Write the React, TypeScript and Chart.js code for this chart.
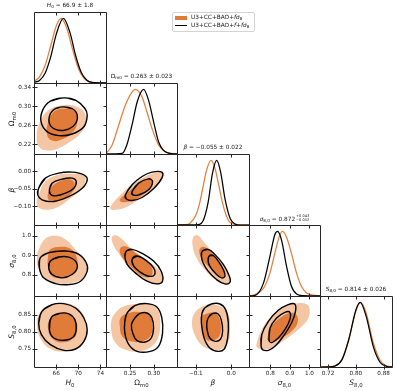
import React, { useEffect, useRef } from 'react';
import { Chart, registerables } from 'chart.js';

Chart.register(...registerables);

type Pt = [number, number];

// ---------------- axis limits ----------------
const H0_LIMITS = [62, 75];
const OM_LIMITS = [0.199, 0.349];
const BETA_LIMITS = [-0.153, 0.05];
const SIG8_LIMITS = [0.691, 1.054];
const S8_LIMITS = [0.697, 0.904];
const PDF_LIMITS = [0, 1.1];

// ---------------- ticks ----------------
const H0_X_TICKS = [66, 70, 74];
const H0_X_LABELS = ['66', '70', '74'];
const OM_X_TICKS = [0.25, 0.3];
const OM_X_LABELS = ['0.25', '0.30'];
const OM_Y_TICKS = [0.22, 0.26, 0.3, 0.34];
const OM_Y_LABELS = ['0.22', '0.26', '0.30', '0.34'];
const BETA_X_TICKS = [-0.1, 0];
const BETA_X_LABELS = ['\u22120.1', '0.0'];
const BETA_Y_TICKS = [-0.1, -0.05, 0];
const BETA_Y_LABELS = ['\u22120.10', '\u22120.05', '0.00'];
const SIG8_X_TICKS = [0.8, 0.9, 1.0];
const SIG8_X_LABELS = ['0.8', '0.9', '1.0'];
const SIG8_Y_TICKS = [0.8, 0.9, 1.0];
const SIG8_Y_LABELS = ['0.8', '0.9', '1.0'];
const S8_X_TICKS = [0.72, 0.8, 0.88];
const S8_X_LABELS = ['0.72', '0.80', '0.88'];
const S8_Y_TICKS = [0.75, 0.8, 0.85];
const S8_Y_LABELS = ['0.75', '0.80', '0.85'];

// ---------------- title statistics ----------------
const TITLE_MEANS = ['66.9', '0.263', '\u22120.055', '0.872', '0.814'];
const TITLE_ERRORS = ['1.8', '0.023', '0.022', '+0.043/\u22120.052', '0.026'];

// ---------------- 1D marginals (A = U3+CC+BAO+fσ8, B = U3+CC+BAO+f+fσ8) ----------------
const H0_PDF_A_X = [62, 63, 64, 65, 66, 66.9, 68, 69, 70, 71, 72, 73, 75];
const H0_PDF_A_Y = [0.025, 0.095, 0.27, 0.57, 0.88, 1.0, 0.83, 0.51, 0.23, 0.075, 0.018, 0.003, 0];
const H0_PDF_B_X = [62, 63, 64, 65, 66, 67.3, 68.5, 69.5, 70.5, 71.5, 72.5, 75];
const H0_PDF_B_Y = [0.008, 0.04, 0.15, 0.4, 0.75, 1.0, 0.78, 0.43, 0.17, 0.047, 0.009, 0];

const OM_PDF_A_X = [0.199, 0.212, 0.226, 0.24, 0.254, 0.261, 0.275, 0.2855, 0.296, 0.31, 0.324, 0.338, 0.349];
const OM_PDF_A_Y = [0.005, 0.14, 0.45, 0.76, 0.96, 1.0, 0.885, 0.65, 0.4, 0.14, 0.04, 0.01, 0.003];
const OM_PDF_B_X = [0.199, 0.233, 0.243, 0.254, 0.265, 0.2785, 0.289, 0.2995, 0.31, 0.32, 0.331, 0.349];
const OM_PDF_B_Y = [0, 0.01, 0.14, 0.45, 0.81, 1.0, 0.83, 0.5, 0.19, 0.06, 0.015, 0];

const BETA_PDF_A_X = [-0.153, -0.13, -0.117, -0.1, -0.09, -0.08, -0.07, -0.057, -0.045, -0.035, -0.025, -0.015, -0.005, 0.01, 0.05];
const BETA_PDF_A_Y = [0, 0.004, 0.024, 0.15, 0.32, 0.58, 0.84, 1.0, 0.86, 0.61, 0.35, 0.16, 0.05, 0.01, 0];
const BETA_PDF_B_X = [-0.153, -0.094, -0.079, -0.065, -0.053, -0.041, -0.03, -0.0175, -0.003, 0.011, 0.025, 0.05];
const BETA_PDF_B_Y = [0, 0.005, 0.07, 0.36, 0.8, 1.0, 0.82, 0.4, 0.1, 0.015, 0, 0];

const SIG8_PDF_A_X = [0.691, 0.714, 0.765, 0.798, 0.823, 0.846, 0.862, 0.883, 0.908, 0.934, 0.959, 0.984, 1.018, 1.054];
const SIG8_PDF_A_Y = [0.003, 0.015, 0.12, 0.355, 0.66, 0.92, 1.0, 0.91, 0.66, 0.355, 0.15, 0.05, 0.015, 0.003];
const SIG8_PDF_B_X = [0.691, 0.722, 0.765, 0.798, 0.823, 0.837, 0.857, 0.883, 0.908, 0.934, 0.967, 1.054];
const SIG8_PDF_B_Y = [0, 0.01, 0.2, 0.615, 0.95, 1.0, 0.87, 0.46, 0.15, 0.03, 0.005, 0];

const S8_PDF_A_X = [0.697, 0.72, 0.74, 0.76, 0.78, 0.8, 0.814, 0.83, 0.85, 0.87, 0.89, 0.904];
const S8_PDF_A_Y = [0, 0.0015, 0.017, 0.115, 0.43, 0.865, 1.0, 0.83, 0.38, 0.1, 0.014, 0.0025];
const S8_PDF_B_X = [0.697, 0.72, 0.74, 0.76, 0.78, 0.8, 0.8125, 0.83, 0.85, 0.87, 0.89, 0.904];
const S8_PDF_B_Y = [0, 0.001, 0.015, 0.11, 0.43, 0.88, 1.0, 0.78, 0.32, 0.07, 0.008, 0.001];

// ---------------- 2D contours (A95/A68 filled, B95/B68 lines) ----------------
const H0_OM_A95: Pt[] = [[67.38, 0.3022], [69.8, 0.2986], [71.19, 0.2847], [71.31, 0.2637], [70.41, 0.2427], [68.59, 0.2252], [66.48, 0.2113], [64.36, 0.2064], [62.85, 0.2147], [62.48, 0.2357], [62.97, 0.2637], [64.66, 0.2917]];
const H0_OM_A68: Pt[] = [[67.68, 0.2951], [69.2, 0.2917], [69.8, 0.2776], [69.62, 0.2567], [68.59, 0.2406], [66.78, 0.2287], [65.26, 0.2273], [64.36, 0.2392], [64.48, 0.2637], [65.26, 0.2847], [66.35, 0.2931]];
const H0_OM_B95: Pt[] = [[67.38, 0.3175], [69.5, 0.3126], [71.19, 0.2951], [71.61, 0.2812], [71.01, 0.2567], [68.89, 0.2413], [66.48, 0.2378], [64.36, 0.2462], [63.27, 0.2672], [63.57, 0.2917], [64.96, 0.3106]];
const H0_OM_B68: Pt[] = [[67.2, 0.2986], [68.89, 0.2951], [69.8, 0.2812], [69.38, 0.2616], [67.68, 0.2497], [65.87, 0.2511], [64.78, 0.2637], [64.96, 0.2847], [65.87, 0.2951]];

const H0_BETA_A95: Pt[] = [[62.85, -0.0667], [64.06, -0.0286], [66.48, -0.0095], [68.89, -0.0067], [70.71, -0.0095], [71.31, -0.0191], [70.71, -0.0477], [68.59, -0.0763], [66.48, -0.1], [64.36, -0.1096], [62.85, -0.103], [62.48, -0.0858]];
const H0_BETA_A68: Pt[] = [[65.57, -0.0381], [67.38, -0.0239], [68.77, -0.0239], [69.38, -0.0381], [68.77, -0.062], [67.08, -0.0781], [65.57, -0.0876], [64.54, -0.0781], [64.66, -0.0572]];
const H0_BETA_B95: Pt[] = [[62.85, -0.0477], [64.06, -0.0191], [66.48, -0.0048], [68.89, -0.0019], [71.01, -0.0095], [71.61, -0.0239], [70.71, -0.0477], [68.29, -0.0716], [65.57, -0.0858], [63.45, -0.0811], [62.67, -0.0667]];
const H0_BETA_B68: Pt[] = [[64.78, -0.0525], [65.26, -0.0334], [67.08, -0.0219], [68.89, -0.0191], [69.62, -0.0286], [69.2, -0.0477], [67.68, -0.062], [65.87, -0.0696], [64.96, -0.0649]];

const OM_BETA_A95: Pt[] = [[0.2088, -0.1], [0.2262, -0.0716], [0.2541, -0.0381], [0.282, -0.0143], [0.3064, -0.0019], [0.3204, -0.0048], [0.3169, -0.0239], [0.296, -0.0525], [0.268, -0.0811], [0.2401, -0.103], [0.2193, -0.1096], [0.2088, -0.1077]];
const OM_BETA_A68: Pt[] = [[0.2277, -0.0811], [0.2472, -0.0572], [0.268, -0.0334], [0.289, -0.0191], [0.2974, -0.0257], [0.2925, -0.0477], [0.2751, -0.0687], [0.2541, -0.084], [0.2332, -0.0876]];
const OM_BETA_B95: Pt[] = [[0.2401, -0.0667], [0.2541, -0.0381], [0.2751, -0.0143], [0.296, -0.0019], [0.3169, -0.0019], [0.3169, -0.0191], [0.3005, -0.0477], [0.2751, -0.0744], [0.2541, -0.083], [0.2416, -0.0781]];
const OM_BETA_B68: Pt[] = [[0.2541, -0.0572], [0.268, -0.0334], [0.289, -0.021], [0.2974, -0.0286], [0.289, -0.0525], [0.268, -0.0667], [0.2556, -0.0667]];

const H0_SIG8_A95: Pt[] = [[64.36, 0.9896], [66.17, 0.998], [67.68, 0.981], [69.2, 0.938], [70.71, 0.8866], [71.61, 0.8351], [71.01, 0.7837], [68.89, 0.7579], [66.47, 0.7545], [64.36, 0.7751], [62.85, 0.8266], [62.54, 0.8866], [63.15, 0.9467]];
const H0_SIG8_A68: Pt[] = [[64.96, 0.9295], [66.78, 0.9432], [68.59, 0.933], [69.62, 0.8952], [69.8, 0.8437], [68.89, 0.8008], [67.08, 0.7837], [65.27, 0.7922], [64.54, 0.8351], [64.54, 0.8952]];
const H0_SIG8_B95: Pt[] = [[63.15, 0.8866], [64.66, 0.9124], [67.68, 0.921], [70.1, 0.9038], [71.43, 0.8609], [71.61, 0.818], [70.4, 0.7665], [68.29, 0.7493], [65.87, 0.7545], [63.75, 0.7837], [62.97, 0.8351]];
const H0_SIG8_B68: Pt[] = [[64.96, 0.8695], [66.47, 0.8901], [68.29, 0.8901], [69.5, 0.8695], [69.8, 0.8351], [68.89, 0.8008], [67.08, 0.7837], [65.27, 0.8008], [64.66, 0.8351]];

const OM_SIG8_A95: Pt[] = [[0.2109, 0.9896], [0.2192, 1.0016], [0.2332, 0.981], [0.2541, 0.9295], [0.2821, 0.878], [0.31, 0.8266], [0.3205, 0.7837], [0.3135, 0.7545], [0.296, 0.7579], [0.2681, 0.7922], [0.2472, 0.8351], [0.2297, 0.8952], [0.2158, 0.9467]];
const OM_SIG8_A68: Pt[] = [[0.2297, 0.938], [0.2437, 0.9432], [0.2611, 0.9124], [0.2821, 0.878], [0.296, 0.8351], [0.2946, 0.7922], [0.2786, 0.7888], [0.2576, 0.8266], [0.2402, 0.8695], [0.2297, 0.9038]];
const OM_SIG8_B95: Pt[] = [[0.2423, 0.921], [0.2541, 0.9295], [0.2751, 0.909], [0.2995, 0.8695], [0.3156, 0.818], [0.3184, 0.7665], [0.3065, 0.7528], [0.2855, 0.7665], [0.2611, 0.8094], [0.2437, 0.8523], [0.2388, 0.8952]];
const OM_SIG8_B68: Pt[] = [[0.2541, 0.878], [0.2646, 0.8952], [0.2855, 0.8695], [0.2995, 0.8351], [0.3016, 0.8008], [0.289, 0.7922], [0.2716, 0.8128], [0.2576, 0.8437]];

const BETA_SIG8_A95: Pt[] = [[-0.1079, 0.9896], [-0.0956, 1.0016], [-0.0795, 0.9724], [-0.0557, 0.921], [-0.0273, 0.8609], [-0.0064, 0.7922], [-0.0035, 0.7579], [-0.0178, 0.7493], [-0.0462, 0.7751], [-0.0747, 0.8266], [-0.0956, 0.878], [-0.1079, 0.938]];
const BETA_SIG8_A68: Pt[] = [[-0.0889, 0.933], [-0.0747, 0.9415], [-0.0557, 0.9124], [-0.032, 0.8609], [-0.0178, 0.8094], [-0.0225, 0.7888], [-0.0415, 0.8008], [-0.0652, 0.8437], [-0.0823, 0.878], [-0.0889, 0.9038]];
const BETA_SIG8_B95: Pt[] = [[-0.0814, 0.921], [-0.0652, 0.9295], [-0.0462, 0.9038], [-0.0225, 0.8523], [-0.0054, 0.7922], [-0.0035, 0.7614], [-0.0178, 0.7528], [-0.0415, 0.7751], [-0.0652, 0.818], [-0.0795, 0.8609], [-0.0842, 0.8952]];
const BETA_SIG8_B68: Pt[] = [[-0.0624, 0.8952], [-0.051, 0.8986], [-0.0368, 0.8695], [-0.0225, 0.8266], [-0.0178, 0.7922], [-0.0273, 0.7837], [-0.0462, 0.8094], [-0.0605, 0.8437], [-0.0652, 0.8695]];

const H0_S8_A95: Pt[] = [[64.06, 0.872], [66.47, 0.8836], [68.89, 0.8788], [70.71, 0.8545], [71.49, 0.8156], [71.31, 0.7816], [70.1, 0.7524], [67.68, 0.7427], [65.27, 0.7475], [63.45, 0.7718], [62.54, 0.8156], [62.85, 0.8496]];
const H0_S8_A68: Pt[] = [[64.96, 0.8399], [66.47, 0.8545], [68.29, 0.8525], [69.5, 0.835], [69.8, 0.8059], [69.2, 0.7816], [67.38, 0.7689], [65.57, 0.7767], [64.54, 0.8059]];
const H0_S8_B95: Pt[] = [[63.45, 0.8593], [65.27, 0.8788], [67.38, 0.8817], [69.5, 0.869], [71.01, 0.8399], [71.61, 0.8059], [71.01, 0.7718], [69.5, 0.7495], [67.38, 0.7456], [64.96, 0.7621], [63.33, 0.7913], [62.85, 0.8253]];
const H0_S8_B68: Pt[] = [[65.14, 0.8418], [66.6, 0.8535], [68.29, 0.852], [69.38, 0.835], [69.62, 0.8059], [69.02, 0.7835], [67.38, 0.7748], [65.57, 0.7816], [64.78, 0.8059]];

const OM_S8_A95: Pt[] = [[0.2158, 0.8496], [0.2367, 0.8739], [0.2681, 0.8807], [0.296, 0.8788], [0.31, 0.8593], [0.3135, 0.8253], [0.31, 0.7864], [0.296, 0.7573], [0.2681, 0.7427], [0.2402, 0.7475], [0.2192, 0.767], [0.2102, 0.801], [0.2102, 0.8302]];
const OM_S8_A68: Pt[] = [[0.2297, 0.8399], [0.2472, 0.8545], [0.2751, 0.8564], [0.2925, 0.8447], [0.2974, 0.8156], [0.2925, 0.7864], [0.2751, 0.7718], [0.2507, 0.7718], [0.2332, 0.7864], [0.2283, 0.8156]];
const OM_S8_B95: Pt[] = [[0.2437, 0.8545], [0.2611, 0.8768], [0.2855, 0.8817], [0.3065, 0.872], [0.317, 0.8399], [0.3184, 0.7961], [0.31, 0.7573], [0.2925, 0.7427], [0.2646, 0.7427], [0.2472, 0.7621], [0.2388, 0.7961], [0.2388, 0.8302]];
const OM_S8_B68: Pt[] = [[0.2576, 0.835], [0.2681, 0.8515], [0.2855, 0.8545], [0.296, 0.8399], [0.2995, 0.8107], [0.2946, 0.7816], [0.2821, 0.7699], [0.2646, 0.7738], [0.2555, 0.7961], [0.2527, 0.8204]];

const BETA_S8_A95: Pt[] = [[-0.1032, 0.8545], [-0.0795, 0.8739], [-0.051, 0.8788], [-0.0225, 0.869], [-0.0064, 0.8447], [-0.0035, 0.8059], [-0.0083, 0.7718], [-0.0273, 0.7495], [-0.0557, 0.7475], [-0.0842, 0.7621], [-0.1032, 0.7913], [-0.1108, 0.8253]];
const BETA_S8_A68: Pt[] = [[-0.0823, 0.8447], [-0.07, 0.8525], [-0.0462, 0.8545], [-0.0339, 0.8399], [-0.0292, 0.8107], [-0.0339, 0.7864], [-0.051, 0.7748], [-0.07, 0.7767], [-0.0795, 0.7961], [-0.0842, 0.8253]];
const BETA_S8_B95: Pt[] = [[-0.0747, 0.869], [-0.0557, 0.8807], [-0.032, 0.8807], [-0.0159, 0.8642], [-0.0083, 0.8253], [-0.0102, 0.7816], [-0.0197, 0.7495], [-0.0368, 0.7427], [-0.0605, 0.7524], [-0.0766, 0.7816], [-0.0842, 0.8253], [-0.0823, 0.8545]];
const BETA_S8_B68: Pt[] = [[-0.0652, 0.8399], [-0.0538, 0.8525], [-0.0368, 0.8515], [-0.0273, 0.8302], [-0.0244, 0.801], [-0.0301, 0.7786], [-0.0443, 0.7718], [-0.0605, 0.7816], [-0.0681, 0.8059], [-0.069, 0.8253]];

const SIG8_S8_A95: Pt[] = [[0.7309, 0.767], [0.7562, 0.8059], [0.7985, 0.8399], [0.8576, 0.869], [0.9252, 0.8817], [0.9843, 0.8807], [1.0013, 0.8642], [0.9895, 0.835], [0.9421, 0.8059], [0.8745, 0.7767], [0.8069, 0.7524], [0.7562, 0.7495], [0.7309, 0.7553]];
const SIG8_S8_A68: Pt[] = [[0.7867, 0.7864], [0.8069, 0.8156], [0.8492, 0.8399], [0.8998, 0.8545], [0.9336, 0.8496], [0.9387, 0.8253], [0.9083, 0.801], [0.8576, 0.7816], [0.8069, 0.7718], [0.7867, 0.7748]];
const SIG8_S8_B95: Pt[] = [[0.7529, 0.7573], [0.7562, 0.7913], [0.79, 0.8302], [0.8407, 0.8622], [0.8914, 0.8788], [0.9252, 0.8807], [0.9286, 0.8593], [0.9083, 0.8253], [0.8661, 0.7864], [0.8238, 0.7573], [0.79, 0.7456], [0.7596, 0.7475]];
const SIG8_S8_B68: Pt[] = [[0.7934, 0.7816], [0.7985, 0.8107], [0.8323, 0.8399], [0.8745, 0.8564], [0.8998, 0.8564], [0.8998, 0.835], [0.8745, 0.8059], [0.8407, 0.7816], [0.8103, 0.7689], [0.7951, 0.7718]];

// ---------------- layout & style ----------------
const W = 397;
const H = 391;
const COL_EDGES = [34, 106, 177, 249, 320, 392];
const ROW_EDGES = [12, 83, 154, 225, 296, 367];
const ORANGE_DARK = '#E07B3A';
const ORANGE_LIGHT = '#F4C6A4';
const ORANGE_LINE = '#E47F3C';
const FRAME = '#262626';
const TEXT = '#1a1a1a';
const FONT = "'DejaVu Sans', sans-serif";
const TICK_FONT_SIZE = 5.7;
const TICK_PAD = 3;
const TENSION = 0.42;

interface AxisSpec { limits: number[]; xTicks: number[]; xLabels: string[]; yTicks: number[]; yLabels: string[] }
const AXES: AxisSpec[] = [
  { limits: H0_LIMITS, xTicks: H0_X_TICKS, xLabels: H0_X_LABELS, yTicks: [], yLabels: [] },
  { limits: OM_LIMITS, xTicks: OM_X_TICKS, xLabels: OM_X_LABELS, yTicks: OM_Y_TICKS, yLabels: OM_Y_LABELS },
  { limits: BETA_LIMITS, xTicks: BETA_X_TICKS, xLabels: BETA_X_LABELS, yTicks: BETA_Y_TICKS, yLabels: BETA_Y_LABELS },
  { limits: SIG8_LIMITS, xTicks: SIG8_X_TICKS, xLabels: SIG8_X_LABELS, yTicks: SIG8_Y_TICKS, yLabels: SIG8_Y_LABELS },
  { limits: S8_LIMITS, xTicks: S8_X_TICKS, xLabels: S8_X_LABELS, yTicks: S8_Y_TICKS, yLabels: S8_Y_LABELS },
];

const CONTOURS = [
  { row: 1, col: 0, a95: H0_OM_A95, a68: H0_OM_A68, b95: H0_OM_B95, b68: H0_OM_B68 },
  { row: 2, col: 0, a95: H0_BETA_A95, a68: H0_BETA_A68, b95: H0_BETA_B95, b68: H0_BETA_B68 },
  { row: 2, col: 1, a95: OM_BETA_A95, a68: OM_BETA_A68, b95: OM_BETA_B95, b68: OM_BETA_B68 },
  { row: 3, col: 0, a95: H0_SIG8_A95, a68: H0_SIG8_A68, b95: H0_SIG8_B95, b68: H0_SIG8_B68 },
  { row: 3, col: 1, a95: OM_SIG8_A95, a68: OM_SIG8_A68, b95: OM_SIG8_B95, b68: OM_SIG8_B68 },
  { row: 3, col: 2, a95: BETA_SIG8_A95, a68: BETA_SIG8_A68, b95: BETA_SIG8_B95, b68: BETA_SIG8_B68 },
  { row: 4, col: 0, a95: H0_S8_A95, a68: H0_S8_A68, b95: H0_S8_B95, b68: H0_S8_B68 },
  { row: 4, col: 1, a95: OM_S8_A95, a68: OM_S8_A68, b95: OM_S8_B95, b68: OM_S8_B68 },
  { row: 4, col: 2, a95: BETA_S8_A95, a68: BETA_S8_A68, b95: BETA_S8_B95, b68: BETA_S8_B68 },
  { row: 4, col: 3, a95: SIG8_S8_A95, a68: SIG8_S8_A68, b95: SIG8_S8_B95, b68: SIG8_S8_B68 },
];

const MARGINALS = [
  { i: 0, ax: H0_PDF_A_X, ay: H0_PDF_A_Y, bx: H0_PDF_B_X, by: H0_PDF_B_Y },
  { i: 1, ax: OM_PDF_A_X, ay: OM_PDF_A_Y, bx: OM_PDF_B_X, by: OM_PDF_B_Y },
  { i: 2, ax: BETA_PDF_A_X, ay: BETA_PDF_A_Y, bx: BETA_PDF_B_X, by: BETA_PDF_B_Y },
  { i: 3, ax: SIG8_PDF_A_X, ay: SIG8_PDF_A_Y, bx: SIG8_PDF_B_X, by: SIG8_PDF_B_Y },
  { i: 4, ax: S8_PDF_A_X, ay: S8_PDF_A_Y, bx: S8_PDF_B_X, by: S8_PDF_B_Y },
];

// closed loop: wrap neighbours so the spline is smooth at the seam
const closedLoop = (pts: Pt[]) => {
  const n = pts.length;
  return [pts[n - 1], ...pts, pts[0], pts[1]].map(([x, y]) => ({ x, y }));
};
const curve = (xs: number[], ys: number[]) => xs.map((x, k) => ({ x, y: ys[k] }));

function framePlugin(xt: number[], yt: number[], outerLeft: boolean, outerBottom: boolean) {
  return {
    id: 'panelFrame',
    afterDatasetsDraw(chart: any) {
      const { ctx, chartArea: a } = chart;
      const xs = chart.scales.x;
      const ys = chart.scales.y;
      const L = Math.round(a.left) + 0.5;
      const R = Math.round(a.right) + 0.5;
      const T = Math.round(a.top) + 0.5;
      const B = Math.round(a.bottom) + 0.5;
      const tl = 3;
      ctx.save();
      ctx.strokeStyle = FRAME;
      ctx.lineWidth = 1;
      ctx.beginPath();
      ctx.rect(L, T, R - L, B - T);
      for (const v of xt) {
        const px = Math.round(xs.getPixelForValue(v)) + 0.5;
        ctx.moveTo(px, B + (outerBottom ? 2 : 0));
        ctx.lineTo(px, B - tl);
        ctx.moveTo(px, T);
        ctx.lineTo(px, T + tl);
      }
      for (const v of yt) {
        const py = Math.round(ys.getPixelForValue(v)) + 0.5;
        ctx.moveTo(L - (outerLeft ? 2 : 0), py);
        ctx.lineTo(L + tl, py);
        ctx.moveTo(R, py);
        ctx.lineTo(R - tl, py);
      }
      ctx.stroke();
      ctx.restore();
    },
  };
}

function buildConfig(row: number, col: number, datasets: any[], diag: boolean) {
  const xa = AXES[col];
  const ya = AXES[row];
  const showX = row === 4;
  const showY = col === 0 && !diag;
  const yTicks = diag ? [] : ya.yTicks;
  const yLabels = diag ? [] : ya.yLabels;
  const yLimits = diag ? PDF_LIMITS : ya.limits;
  const font = { family: FONT, size: TICK_FONT_SIZE };
  // axis boxes that carry labels get the whole margin; others collapse to zero
  const xBox = showX ? H - ROW_EDGES[row + 1] : 0;
  const yBox = showY ? COL_EDGES[col] : 0;
  return {
    type: 'line',
    data: { datasets },
    options: {
      responsive: false,
      animation: false,
      devicePixelRatio: 1,
      events: [],
      layout: {
        padding: {
          left: COL_EDGES[col] - yBox,
          right: W - COL_EDGES[col + 1],
          top: ROW_EDGES[row],
          bottom: H - ROW_EDGES[row + 1] - xBox,
        },
      },
      plugins: { legend: { display: false }, tooltip: { enabled: false }, title: { display: false } },
      elements: { point: { radius: 0 } },
      scales: {
        x: {
          type: 'linear',
          min: xa.limits[0],
          max: xa.limits[1],
          afterFit: (s: any) => { s.height = xBox; },
          afterBuildTicks: (s: any) => { s.ticks = xa.xTicks.map((v) => ({ value: v })); },
          grid: { display: false, drawTicks: false },
          border: { display: false },
          ticks: {
            display: showX, autoSkip: false, maxRotation: 0, minRotation: 0, padding: TICK_PAD,
            font, color: TEXT, callback: (_v: any, i: number) => xa.xLabels[i],
          },
        },
        y: {
          type: 'linear',
          min: yLimits[0],
          max: yLimits[1],
          afterFit: (s: any) => { s.width = yBox; },
          afterBuildTicks: (s: any) => { s.ticks = yTicks.map((v) => ({ value: v })); },
          grid: { display: false, drawTicks: false },
          border: { display: false },
          ticks: {
            display: showY, autoSkip: false, padding: TICK_PAD,
            font, color: TEXT, callback: (_v: any, i: number) => yLabels[i],
          },
        },
      },
    },
    plugins: [framePlugin(xa.xTicks, yTicks, col === 0, row === 4)],
  };
}

function Panel({ config }: { config: any }) {
  const ref = useRef<HTMLCanvasElement>(null);
  useEffect(() => {
    const chart = new Chart(ref.current as HTMLCanvasElement, config);
    return () => chart.destroy();
  }, [config]);
  return (
    <canvas
      ref={ref}
      width={W}
      height={H}
      style={{ position: 'absolute', left: 0, top: 0, width: W, height: H, pointerEvents: 'none' }}
    />
  );
}

// Chart.js paints datasets with a higher `order` first (underneath)
const PANEL_CONFIGS = [
  ...CONTOURS.map((c) =>
    buildConfig(c.row, c.col, [
      { data: closedLoop(c.a95), order: 4, fill: 'shape', backgroundColor: ORANGE_LIGHT, borderWidth: 0, pointRadius: 0, tension: TENSION },
      { data: closedLoop(c.a68), order: 3, fill: 'shape', backgroundColor: ORANGE_DARK, borderWidth: 0, pointRadius: 0, tension: TENSION },
      { data: closedLoop(c.b95), order: 2, fill: false, borderColor: '#000', borderWidth: 1.4, pointRadius: 0, tension: TENSION },
      { data: closedLoop(c.b68), order: 1, fill: false, borderColor: '#000', borderWidth: 1.4, pointRadius: 0, tension: TENSION },
    ], false)
  ),
  ...MARGINALS.map((m) =>
    buildConfig(m.i, m.i, [
      { data: curve(m.ax, m.ay), order: 2, fill: false, borderColor: ORANGE_LINE, borderWidth: 1.25, pointRadius: 0, cubicInterpolationMode: 'monotone' },
      { data: curve(m.bx, m.by), order: 1, fill: false, borderColor: '#000', borderWidth: 1.25, pointRadius: 0, cubicInterpolationMode: 'monotone' },
    ], true)
  ),
];

const Sub = ({ children }: { children: React.ReactNode }) => (
  <span style={{ fontSize: '72%', verticalAlign: '-0.3em', lineHeight: 0 }}>{children}</span>
);

function Txt({ x, y, size, rotate, children }: { x: number; y: number; size: number; rotate?: boolean; children: React.ReactNode }) {
  return (
    <div
      style={{
        position: 'absolute', left: x, top: y,
        transform: `translate(-50%, -50%)${rotate ? ' rotate(-90deg)' : ''}`,
        fontSize: size, lineHeight: 1, whiteSpace: 'nowrap', color: TEXT, fontFamily: FONT,
      }}
    >
      {children}
    </div>
  );
}

const SYMBOLS: React.ReactNode[] = [
  <><i>H</i><Sub>0</Sub></>,
  <>{'\u03A9'}<Sub>m0</Sub></>,
  <i>{'\u03B2'}</i>,
  <><i>{'\u03C3'}</i><Sub>8,0</Sub></>,
  <><i>S</i><Sub>8,0</Sub></>,
];

const colCenter = (c: number) => (COL_EDGES[c] + COL_EDGES[c + 1]) / 2;
const rowCenter = (r: number) => (ROW_EDGES[r] + ROW_EDGES[r + 1]) / 2;

function Title({ i }: { i: number }) {
  const err = TITLE_ERRORS[i];
  const asym = err.includes('/');
  const [up, down] = err.split('/');
  return (
    <Txt x={colCenter(i)} y={ROW_EDGES[i] - 6} size={5.8}>
      {SYMBOLS[i]} = {TITLE_MEANS[i]}
      {asym ? (
        <span style={{ display: 'inline-flex', flexDirection: 'column', fontSize: '62%', lineHeight: 1, verticalAlign: 'middle', marginLeft: 1 }}>
          <span>{up}</span>
          <span>{down}</span>
        </span>
      ) : (
        <> {'\u00B1'} {err}</>
      )}
    </Txt>
  );
}

function Legend() {
  const item = { position: 'absolute' as const, left: 18, fontSize: 5.8, fontFamily: FONT, color: TEXT, whiteSpace: 'nowrap' as const, lineHeight: 1 };
  return (
    <div style={{ position: 'absolute', left: 172, top: 12, width: 83, height: 20, border: '1px solid #d4d4d4', borderRadius: 2, background: '#fff', boxSizing: 'border-box' }}>
      <div style={{ position: 'absolute', left: 2, top: 2.5, width: 12, height: 4.5, background: ORANGE_DARK }} />
      <div style={{ ...item, top: 1.8 }}>U3+CC+BAO+<i>f{'\u03C3'}</i><Sub>8</Sub></div>
      <div style={{ position: 'absolute', left: 2, top: 12, width: 12, height: 1.3, background: '#000' }} />
      <div style={{ ...item, top: 9.8 }}>U3+CC+BAO+<i>f</i>+<i>f{'\u03C3'}</i><Sub>8</Sub></div>
    </div>
  );
}

export default function App() {
  return (
    <div style={{ position: 'absolute', left: 0, top: 0, width: W, height: H, background: '#fff', overflow: 'hidden' }}>
      {PANEL_CONFIGS.map((cfg, k) => <Panel key={k} config={cfg} />)}
      {[0, 1, 2, 3, 4].map((i) => <Title key={'t' + i} i={i} />)}
      {[0, 1, 2, 3, 4].map((i) => (
        <Txt key={'x' + i} x={colCenter(i)} y={382.5} size={7.5}>{SYMBOLS[i]}</Txt>
      ))}
      {[1, 2, 3, 4].map((i) => (
        <Txt key={'y' + i} x={12} y={rowCenter(i)} size={7.5} rotate>{SYMBOLS[i]}</Txt>
      ))}
      <Legend />
    </div>
  );
}
